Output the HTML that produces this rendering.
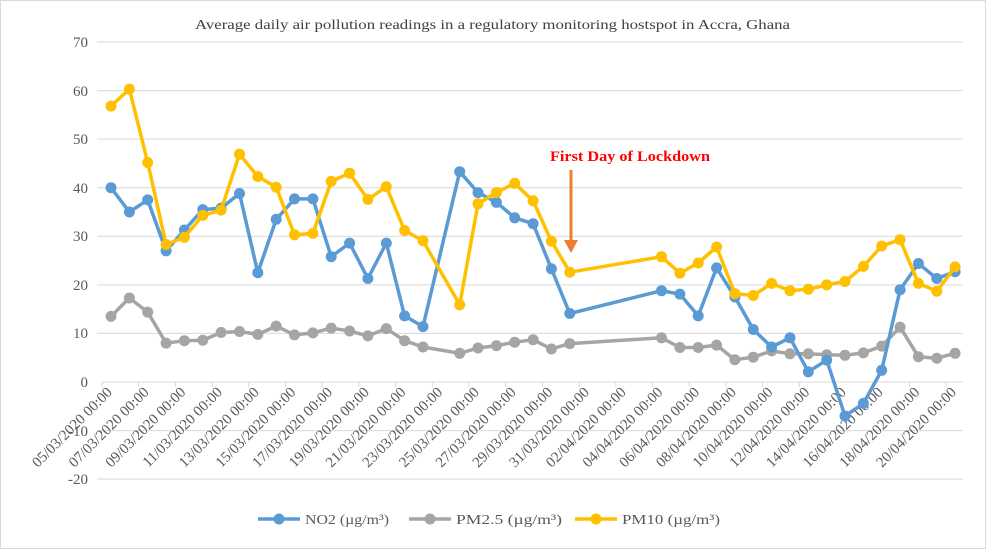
<!DOCTYPE html>
<html><head><meta charset="utf-8"><style>
html,body{margin:0;padding:0;background:#fff;}
svg{display:block;font-family:"Liberation Serif",serif;}
</style></head><body>
<svg width="994" height="560" viewBox="0 0 994 560" xmlns="http://www.w3.org/2000/svg">
<defs>
<marker id="mb" markerWidth="12" markerHeight="12" refX="6" refY="6" markerUnits="userSpaceOnUse"><circle cx="6" cy="6" r="5.5" fill="#5B9BD5"/></marker>
<marker id="mg" markerWidth="12" markerHeight="12" refX="6" refY="6" markerUnits="userSpaceOnUse"><circle cx="6" cy="6" r="5.5" fill="#A5A5A5"/></marker>
<marker id="my" markerWidth="12" markerHeight="12" refX="6" refY="6" markerUnits="userSpaceOnUse"><circle cx="6" cy="6" r="5.5" fill="#FFC000"/></marker>
</defs>
<rect x="0.5" y="0.5" width="985" height="548" fill="#fff" stroke="#d9d9d9"/>
<text x="195" y="29" font-size="14" fill="#404040" textLength="595" lengthAdjust="spacingAndGlyphs">Average daily air pollution readings in a regulatory monitoring hostspot in Accra, Ghana</text>
<g stroke="#d9d9d9" stroke-width="1">
<line x1="97" y1="42" x2="963" y2="42"/><line x1="97" y1="90.6" x2="963" y2="90.6"/><line x1="97" y1="139.1" x2="963" y2="139.1"/><line x1="97" y1="187.7" x2="963" y2="187.7"/><line x1="97" y1="236.3" x2="963" y2="236.3"/><line x1="97" y1="284.9" x2="963" y2="284.9"/><line x1="97" y1="333.4" x2="963" y2="333.4"/><line x1="97" y1="430.6" x2="963" y2="430.6"/><line x1="97" y1="479.1" x2="963" y2="479.1"/>
<line x1="102" y1="382" x2="963" y2="382"/>
<path d="M102 382v5M138.7 382v5M175.4 382v5M212.1 382v5M248.8 382v5M285.5 382v5M322.2 382v5M358.9 382v5M395.6 382v5M432.3 382v5M469 382v5M505.7 382v5M542.4 382v5M579.1 382v5M615.8 382v5M652.5 382v5M689.2 382v5M725.9 382v5M762.6 382v5M799.3 382v5M836 382v5M872.7 382v5M909.4 382v5M946.1 382v5"/>
</g>
<g font-size="15" fill="#595959" text-anchor="end">
<text x="88" y="47">70</text><text x="88" y="96">60</text><text x="88" y="144">50</text><text x="88" y="193">40</text><text x="88" y="241">30</text><text x="88" y="290">20</text><text x="88" y="338">10</text><text x="88" y="387">0</text><text x="88" y="436">-10</text><text x="88" y="484">-20</text>
</g>
<g font-size="15" fill="#595959" text-anchor="end">
<text transform="translate(113,393) rotate(-45)">05/03/2020 00:00</text>
<text transform="translate(149.7,393) rotate(-45)">07/03/2020 00:00</text>
<text transform="translate(186.4,393) rotate(-45)">09/03/2020 00:00</text>
<text transform="translate(223.1,393) rotate(-45)">11/03/2020 00:00</text>
<text transform="translate(259.8,393) rotate(-45)">13/03/2020 00:00</text>
<text transform="translate(296.5,393) rotate(-45)">15/03/2020 00:00</text>
<text transform="translate(333.2,393) rotate(-45)">17/03/2020 00:00</text>
<text transform="translate(369.9,393) rotate(-45)">19/03/2020 00:00</text>
<text transform="translate(406.6,393) rotate(-45)">21/03/2020 00:00</text>
<text transform="translate(443.3,393) rotate(-45)">23/03/2020 00:00</text>
<text transform="translate(480,393) rotate(-45)">25/03/2020 00:00</text>
<text transform="translate(516.7,393) rotate(-45)">27/03/2020 00:00</text>
<text transform="translate(553.4,393) rotate(-45)">29/03/2020 00:00</text>
<text transform="translate(590.1,393) rotate(-45)">31/03/2020 00:00</text>
<text transform="translate(626.8,393) rotate(-45)">02/04/2020 00:00</text>
<text transform="translate(663.5,393) rotate(-45)">04/04/2020 00:00</text>
<text transform="translate(700.2,393) rotate(-45)">06/04/2020 00:00</text>
<text transform="translate(736.9,393) rotate(-45)">08/04/2020 00:00</text>
<text transform="translate(773.6,393) rotate(-45)">10/04/2020 00:00</text>
<text transform="translate(810.3,393) rotate(-45)">12/04/2020 00:00</text>
<text transform="translate(847,393) rotate(-45)">14/04/2020 00:00</text>
<text transform="translate(883.7,393) rotate(-45)">16/04/2020 00:00</text>
<text transform="translate(920.4,393) rotate(-45)">18/04/2020 00:00</text>
<text transform="translate(957.1,393) rotate(-45)">20/04/2020 00:00</text>
</g>
<g fill="none" stroke-width="3.5" stroke-linejoin="round">
<polyline stroke="#A5A5A5" marker-start="url(#mg)" marker-mid="url(#mg)" marker-end="url(#mg)" points="111,316.4 129.4,298 147.7,312.1 166.1,343.1 184.4,340.7 202.8,340.2 221.1,332.5 239.5,331.5 257.8,334.4 276.2,326.1 294.5,334.9 312.9,332.9 331.2,328.1 349.6,331 367.9,335.9 386.3,328.6 404.6,340.7 423,347 459.7,353.3 478,348 496.4,345.6 514.7,342.2 533.1,339.7 551.4,349 569.8,343.6 661.5,337.8 679.9,347.5 698.2,347.5 716.6,345.1 734.9,359.7 753.3,357.2 771.6,350.9 790,353.8 808.3,353.8 826.7,354.8 845,355.3 863.4,352.9 881.7,346.1 900.1,327.1 918.4,356.7 936.8,358.2 955.1,353.3"/>
<polyline stroke="#5B9BD5" marker-start="url(#mb)" marker-mid="url(#mb)" marker-end="url(#mb)" points="111,187.7 129.4,212 147.7,199.9 166.1,250.9 184.4,230 202.8,209.6 221.1,208.1 239.5,193.5 257.8,272.7 276.2,219.3 294.5,198.9 312.9,198.9 331.2,256.7 349.6,243.1 367.9,278.5 386.3,243.1 404.6,315.9 423,326.6 459.7,171.7 478,192.6 496.4,202.3 514.7,217.8 533.1,223.7 551.4,268.8 569.8,313.5 661.5,290.7 679.9,294.1 698.2,315.9 716.6,267.9 734.9,297 753.3,329.5 771.6,347 790,337.8 808.3,371.8 826.7,360.1 845,416 863.4,403.4 881.7,370.3 900.1,289.7 918.4,263.5 936.8,278.5 955.1,271.7"/>
<polyline stroke="#FFC000" marker-start="url(#my)" marker-mid="url(#my)" marker-end="url(#my)" points="111,106.1 129.4,89.1 147.7,162.5 166.1,244.5 184.4,237.3 202.8,215.4 221.1,210.1 239.5,154.2 257.8,176.5 276.2,187.2 294.5,234.8 312.9,233.4 331.2,181.4 349.6,173.2 367.9,199.4 386.3,186.7 404.6,230.5 423,240.7 459.7,304.8 478,203.8 496.4,192.6 514.7,183.3 533.1,200.8 551.4,241.2 569.8,272.2 661.5,256.7 679.9,273.2 698.2,263 716.6,247 734.9,293.6 753.3,295.5 771.6,283.4 790,290.7 808.3,289.2 826.7,284.9 845,281.5 863.4,266.4 881.7,246 900.1,239.7 918.4,283.4 936.8,291.2 955.1,266.9"/>
</g>
<text x="550" y="161" font-size="15" font-weight="bold" fill="#FF0000" textLength="160" lengthAdjust="spacingAndGlyphs">First Day of  Lockdown</text>
<line x1="571" y1="170" x2="571" y2="242" stroke="#ED7D31" stroke-width="3"/>
<polygon points="564,240 578,240 571,253" fill="#ED7D31"/>
<g font-size="14" fill="#595959">
<line x1="258" y1="519" x2="300" y2="519" stroke="#5B9BD5" stroke-width="3.5"/><circle cx="279" cy="519" r="5.5" fill="#5B9BD5"/><text x="305" y="524" textLength="84" lengthAdjust="spacingAndGlyphs">NO2 (µg/m³)</text>
<line x1="409" y1="519" x2="451" y2="519" stroke="#A5A5A5" stroke-width="3.5"/><circle cx="430" cy="519" r="5.5" fill="#A5A5A5"/><text x="456" y="524" textLength="106" lengthAdjust="spacingAndGlyphs">PM2.5 (µg/m³)</text>
<line x1="575" y1="519" x2="617" y2="519" stroke="#FFC000" stroke-width="3.5"/><circle cx="596" cy="519" r="5.5" fill="#FFC000"/><text x="622" y="524" textLength="98" lengthAdjust="spacingAndGlyphs">PM10 (µg/m³)</text>
</g>
</svg>
</body></html>
